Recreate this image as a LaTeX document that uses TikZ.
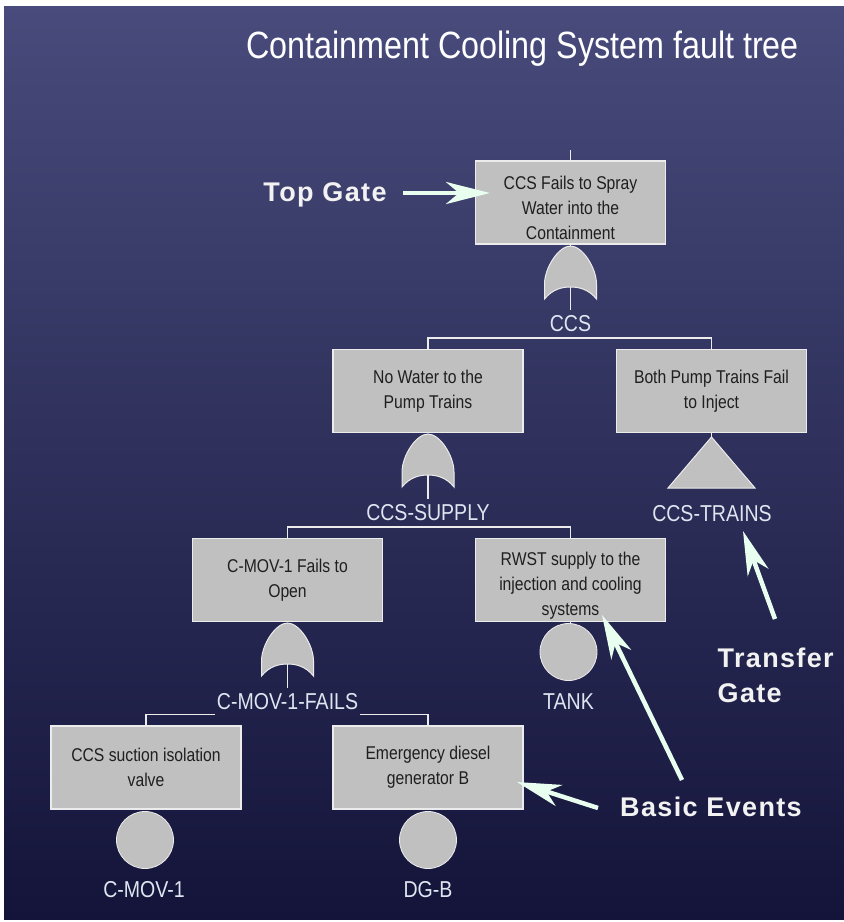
\documentclass[tikz,border=0pt]{standalone}
\usepackage{fontspec}
\setmainfont{Liberation Sans}
\newfontfamily\narrowsans[FakeStretch=0.85]{Liberation Sans}
\newfontfamily\annfont[LetterSpace=5]{Liberation Sans}
\usetikzlibrary{arrows.meta,calc}
\definecolor{bgtop}{RGB}{72,75,123}
\definecolor{bgbot}{RGB}{20,20,58}
\definecolor{boxfill}{RGB}{192,192,192}
\definecolor{edgec}{RGB}{236,236,236}
\definecolor{mint}{RGB}{232,255,240}
\definecolor{lblc}{RGB}{222,230,240}
\tikzset{
  evbox/.style={draw=edgec, line width=1.3pt, fill=boxfill, minimum width=190pt, minimum height=83pt, inner sep=0pt, align=center, text=black!88, font=\narrowsans\fontsize{18.5}{25}\selectfont},
  conn/.style={draw=edgec, line width=1.3pt},
  gatesh/.style={draw=edgec, line width=1pt, fill=boxfill},
  gatelbl/.style={text=lblc, font=\narrowsans\fontsize{23}{25}\selectfont, text height=17pt, text depth=0pt, inner ysep=4.5pt, inner xsep=2pt},
  basicev/.style={circle, draw=edgec, line width=0.8pt, fill=boxfill, minimum size=57pt, inner sep=0pt},
  annot/.style={text=white!95!black, inner sep=0pt, font=\annfont\bfseries\fontsize{27}{35}\selectfont},
  annarrow/.style={draw=mint, fill=mint, line width=4.5pt, -{Stealth[length=44pt,width=22pt,inset=13pt]}},
  orgate/.pic={
    \path[gatesh] (-26,53) -- (-26,38) .. controls (-26,22) and (-12,0) .. (0,0)
      .. controls (12,0) and (26,22) .. (26,38) -- (26,53)
      .. controls (18,43) and (8,41) .. (0,41)
      .. controls (-8,41) and (-18,43) .. cycle;
    \coordinate (-top) at (0,0);
    \coordinate (-stem) at (0,41);
  }
}
\begin{document}
\begin{tikzpicture}[x=1pt,y=-1pt]
\useasboundingbox (0,0) rectangle (844,922);
\fill[white] (0,0) rectangle (844,922);
\shade[top color=bgtop,bottom color=bgbot] (4,6) rectangle (844,919);

\node[anchor=base, text=white, font=\narrowsans\fontsize{38}{40}\selectfont] (title) at (522.5,58.5) {Containment Cooling System fault tree};

% event boxes
\node[evbox] (top) at (570.5,202.5) {\rule{0pt}{24.5pt}CCS Fails to Spray\\Water into the\\Containment};
\node[evbox] (nowater) at (428,391) {No Water to the\\Pump Trains};
\node[evbox] (bothpump) at (711.5,391) {Both Pump Trains Fail\\to Inject};
\node[evbox] (cmov) at (287.5,580) {C-MOV-1 Fails to\\Open};
\node[evbox] (rwst) at (570.5,580) {\rule{0pt}{24pt}RWST supply to the\\injection and cooling\\systems};
\node[evbox] (valve) at (146,767.5) {CCS suction isolation\\valve};
\node[evbox] (diesel) at (428,767.5) {Emergency diesel\\generator B};

% input to top gate
\coordinate (topin) at (570.5,150);
\draw[conn] (topin) -- (top.north);

% gate CCS
\draw[conn] (top.south) -- ++(0,4);
\pic (g1) at (570.5,246) {orgate};
\node[gatelbl] (lccs) at (570.5,323) {CCS};
\draw[conn] (g1-stem) -- (lccs.north);
\draw[conn] (nowater.north) -- ++(0,-11) -| (bothpump.north);

% gate CCS-SUPPLY
\pic (g2) at (428,434) {orgate};
\node[gatelbl] (lsupply) at (428,512) {CCS-SUPPLY};
\draw[conn] (g2-stem) -- (lsupply.north);
\draw[conn] (cmov.north) -- ++(0,-11) -| (rwst.north);

% transfer gate CCS-TRAINS
\coordinate (tri) at (711.5,437);
\draw[conn] (bothpump.south) -- (tri);
\draw[gatesh] (tri) -- ++(43.5,51) -- ++(-87,0) -- cycle;
\node[gatelbl] (ltrains) at (712,513) {CCS-TRAINS};

% gate C-MOV-1-FAILS
\pic (g3) at (287.5,623) {orgate};
\node[gatelbl] (lfails) at (287.5,701) {C-MOV-1-FAILS};
\draw[conn] (g3-stem) -- (lfails.north);
\draw[conn] (valve.north) |- (lfails.south west);
\draw[conn] (diesel.north) |- (lfails.south east);

% basic events
\draw[conn] (rwst.south) -- ++(0,3);
\node[basicev] (tank) at (568.5,652) {};
\node[gatelbl] (ltank) at (568.5,701) {TANK};
\node[basicev] (c1) at (145,840) {};
\node[gatelbl] (lc1) at (144,889) {C-MOV-1};
\node[basicev] (c2) at (428,840) {};
\node[gatelbl] (lc2) at (428,889) {DG-B};

% annotations
\node[annot, anchor=base] (tg) at (325,201.7) {Top Gate};
\coordinate (tgtail) at (403,193);
\coordinate (tgtip) at (490,193);
\draw[annarrow] (tgtail) -- (tgtip);

\node[annot, anchor=west, align=left] (tr) at (717.5,675.5) {Transfer\\Gate};
\coordinate (trtail) at (775,619);
\coordinate (trtip) at (743,531);
\draw[annarrow] (trtail) -- (trtip);

\node[annot, anchor=base] (be) at (711,816) {Basic Events};
\coordinate (be1tail) at (682,780);
\coordinate (be1tip) at (602,615);
\draw[annarrow] (be1tail) -- (be1tip);
\coordinate (be2tail) at (598,808);
\coordinate (be2tip) at (517,782);
\draw[annarrow] (be2tail) -- (be2tip);
\end{tikzpicture}
\end{document}
